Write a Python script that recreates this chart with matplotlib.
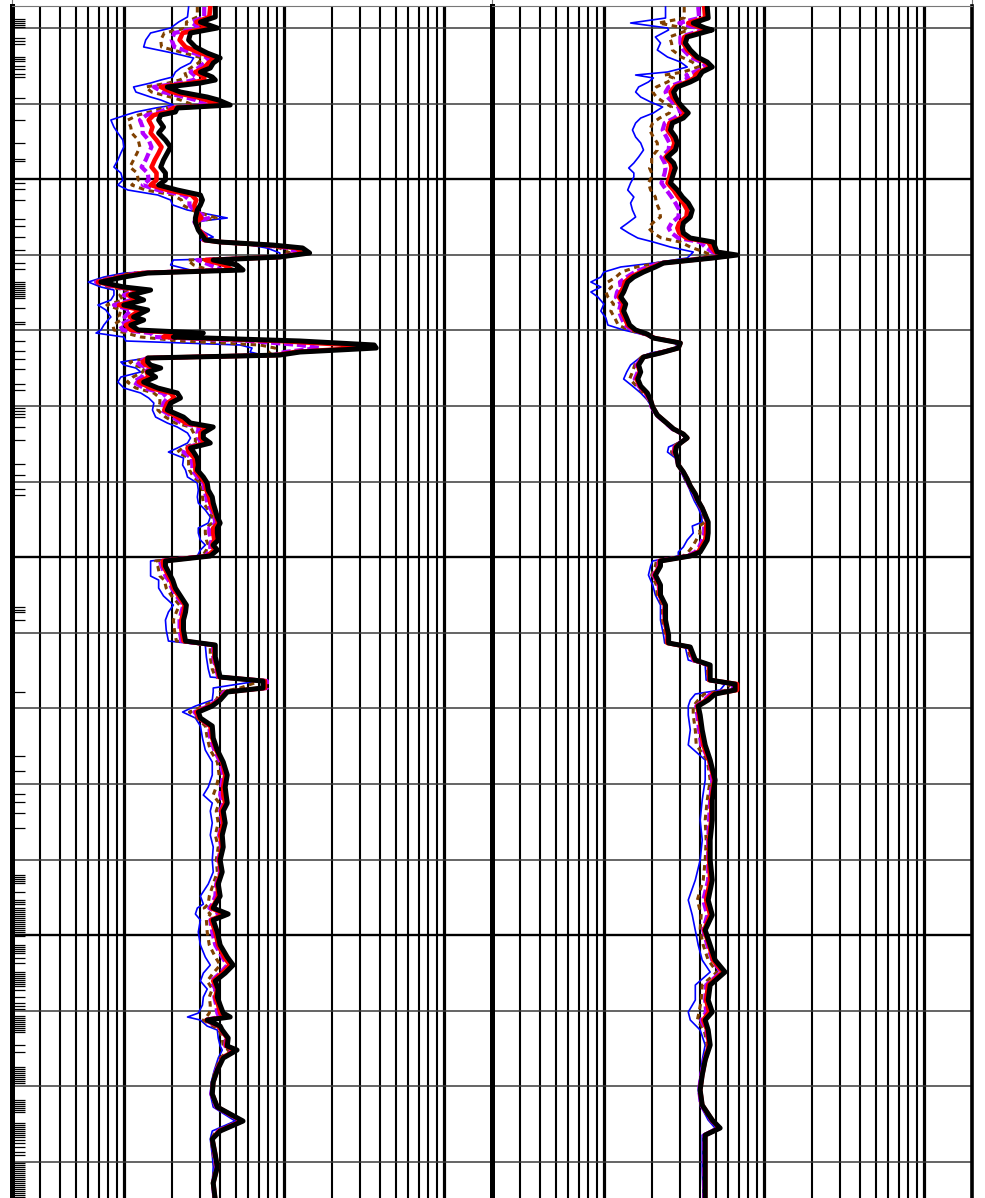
import matplotlib
matplotlib.use("Agg")
import matplotlib.pyplot as plt
from matplotlib.ticker import LogLocator, MultipleLocator, FixedLocator, NullFormatter

# --- track 1 : induction curves (ohm.m) against depth (ft) ---
t1_depth = [2027.22, 2028.54, 2029.21, 2030.00, 2030.66, 2031.59, 2032.51, 2033.31, 2033.97, 2034.63,
            2035.29, 2035.82, 2036.48, 2036.88, 2037.28, 2037.80, 2038.47, 2039.13, 2039.52, 2040.19,
            2040.58, 2041.11, 2041.51, 2042.17, 2043.10, 2043.89, 2044.82, 2045.74, 2046.54, 2047.46,
            2048.39, 2049.18, 2050.11, 2050.77, 2051.43, 2052.09, 2052.75, 2053.41, 2054.08, 2055.13,
            2055.66, 2056.72, 2057.65, 2058.04, 2058.31, 2058.71, 2059.10, 2059.76, 2060.29, 2060.69,
            2061.35, 2062.01, 2062.41, 2062.94, 2063.60, 2064.26, 2064.66, 2065.32, 2065.98, 2066.64,
            2067.30, 2068.23, 2068.63, 2069.29, 2069.95, 2070.35, 2070.87, 2071.40, 2071.93, 2072.33,
            2072.86, 2073.26, 2073.65, 2074.18, 2074.58, 2074.98, 2075.50, 2076.17, 2076.83, 2077.62,
            2078.28, 2078.94, 2079.61, 2080.53, 2081.46, 2082.25, 2082.78, 2083.57, 2084.23, 2084.90,
            2085.56, 2086.09, 2086.88, 2087.81, 2088.47, 2089.39, 2090.19, 2091.11, 2092.04, 2092.83,
            2093.76, 2094.68, 2095.48, 2096.14, 2096.80, 2097.73, 2098.39, 2099.05, 2099.84, 2100.50,
            2101.17, 2102.49, 2103.02, 2104.08, 2105.13, 2106.33, 2107.25, 2108.31, 2109.63, 2111.09,
            2111.62, 2113.20, 2114.79, 2115.85, 2116.38, 2117.30, 2117.83, 2118.89, 2119.69, 2120.48,
            2121.27, 2122.33, 2123.92, 2125.51, 2127.09, 2128.81, 2130.40, 2131.46, 2132.52, 2133.58,
            2135.16, 2136.75, 2138.34, 2140.06, 2141.64, 2143.23, 2144.82, 2145.88, 2146.41, 2147.20,
            2147.99, 2149.58, 2151.30, 2152.89, 2153.95, 2155.01, 2156.06, 2157.12, 2158.18, 2159.24,
            2160.30, 2160.82, 2161.22, 2162.02, 2162.54, 2163.60, 2164.66, 2165.19, 2166.25, 2167.84,
            2169.42, 2171.01, 2172.73, 2174.58, 2175.90, 2176.96, 2179.08, 2180.67, 2182.78, 2185.03]

t1_at90 = [37.3, 37.3, 30.1, 38.4, 26.1, 25.4, 28.0, 33.2, 40.0, 36.2,
           34.7, 30.1, 35.7, 37.3, 30.1, 18.7, 22.6, 33.2, 38.9, 46.2,
           21.6, 21.0, 17.0, 16.5, 17.7, 16.5, 18.2, 19.6, 18.7, 17.7,
           17.0, 18.2, 18.2, 16.5, 21.6, 30.1, 31.0, 30.1, 28.8, 28.0,
           28.0, 29.2, 31.4, 32.3, 40.0, 85.4, 131, 145, 94.4, 36.2,
           51.0, 55.6, 14.1, 10.0, 7.19, 10.0, 14.7, 11.05, 13.3, 10.0,
           14.1, 11.5, 13.3, 11.05, 12.3, 31.4, 20.4, 126, 367, 378,
           126, 94.4, 14.1, 14.1, 14.7, 17.0, 14.1, 15.8, 13.3, 16.3,
           21.6, 22.6, 19.6, 18.7, 23.6, 26.1, 36.2, 31.4, 31.4, 34.7,
           26.1, 27.3, 28.8, 29.2, 28.8, 31.4, 33.2, 33.7, 35.7, 36.2,
           37.3, 38.4, 40.0, 38.4, 38.4, 38.9, 36.2, 38.4, 34.7, 18.2,
           18.2, 19.6, 20.2, 21.0, 22.6, 24.6, 24.3, 23.6, 23.6, 24.3,
           37.3, 37.3, 38.9, 40.0, 74.1, 74.1, 44.3, 40.0, 35.7, 29.2,
           30.1, 35.7, 36.2, 38.4, 41.8, 44.3, 43.0, 43.6, 44.3, 41.8,
           43.0, 41.2, 41.8, 40.0, 41.2, 38.9, 40.0, 37.3, 36.2, 44.9,
           36.2, 38.4, 40.0, 44.3, 48.2, 43.0, 37.3, 38.9, 38.4, 40.0,
           41.8, 46.2, 33.2, 40.0, 41.2, 44.9, 44.3, 51.0, 41.8, 38.4,
           36.2, 35.7, 38.4, 55.6, 40.0, 35.7, 37.3, 38.4, 36.2, 37.3]

t1_at60 = [34.7, 34.2, 28.4, 33.7, 23.3, 22.3, 24.3, 30.1, 37.3, 33.7,
           31.8, 28.0, 31.8, 31.8, 26.1, 17.0, 19.9, 28.4, 32.8, 39.4,
           20.4, 18.7, 15.4, 14.3, 15.1, 14.7, 16.0, 17.2, 16.5, 15.6,
           14.9, 16.0, 16.0, 14.7, 18.7, 26.5, 28.4, 27.6, 28.0, 30.5,
           28.0, 29.6, 32.3, 31.8, 40.0, 79.5, 119, 133, 94.4, 32.3,
           42.4, 47.6, 13.1, 9.44, 6.89, 9.31, 13.3, 10.6, 12.1, 9.31,
           12.6, 10.9, 12.1, 10.3, 11.05, 22.6, 17.7, 94.4, 257, 297,
           117, 90.5, 14.1, 13.1, 13.7, 15.8, 13.9, 14.3, 12.4, 14.7,
           19.6, 20.7, 18.7, 17.9, 21.6, 24.3, 32.8, 30.1, 30.1, 32.3,
           25.0, 25.4, 27.6, 28.0, 28.0, 30.1, 32.3, 32.8, 34.2, 34.7,
           36.2, 37.8, 38.9, 36.2, 36.2, 36.8, 35.7, 36.8, 33.2, 17.5,
           17.7, 19.0, 19.6, 20.4, 22.0, 24.0, 23.6, 22.9, 22.9, 23.6,
           36.8, 36.8, 38.4, 39.4, 76.2, 76.2, 43.6, 39.4, 34.7, 28.4,
           29.6, 34.7, 35.7, 37.8, 41.2, 43.0, 41.8, 41.8, 43.0, 40.6,
           41.8, 40.0, 41.2, 39.4, 40.6, 38.4, 38.9, 36.8, 35.2, 42.4,
           35.2, 37.3, 38.9, 42.4, 46.2, 41.2, 36.2, 38.4, 37.3, 38.9,
           40.0, 43.0, 32.8, 38.9, 40.6, 44.3, 43.6, 49.6, 41.2, 38.4,
           36.2, 35.7, 38.4, 54.8, 39.4, 35.7, 37.3, 38.4, 36.2, 37.3]

t1_at30 = [31.8, 31.8, 26.5, 29.2, 20.7, 19.9, 20.7, 27.3, 34.2, 31.8,
           29.2, 26.1, 28.4, 27.3, 22.6, 15.4, 17.5, 24.0, 28.0, 33.2,
           19.0, 16.8, 13.9, 12.6, 13.1, 13.1, 14.3, 14.9, 14.3, 13.7,
           12.9, 14.1, 14.3, 13.1, 16.3, 23.6, 25.7, 25.7, 27.3, 33.7,
           27.6, 29.6, 33.2, 31.4, 40.0, 75.1, 107, 122, 94.4, 28.8,
           34.7, 41.2, 12.3, 8.92, 6.70, 8.80, 11.9, 10.0, 11.05, 8.67,
           11.05, 10.1, 10.9, 9.44, 9.86, 14.7, 15.4, 61.5, 126, 167,
           101, 86.6, 14.1, 12.1, 12.6, 14.7, 13.5, 12.9, 11.5, 13.3,
           17.5, 18.7, 17.7, 17.2, 20.2, 22.9, 29.6, 28.8, 29.2, 30.5,
           24.3, 23.6, 26.5, 26.8, 26.8, 28.8, 31.4, 31.8, 32.8, 33.2,
           35.2, 36.8, 37.3, 34.2, 34.2, 35.2, 34.7, 34.7, 32.3, 16.8,
           17.2, 18.2, 19.0, 19.9, 21.3, 23.6, 22.9, 22.3, 22.3, 22.9,
           36.2, 36.2, 37.8, 38.9, 78.4, 78.4, 42.4, 38.9, 33.7, 27.6,
           29.6, 34.2, 34.7, 36.8, 40.0, 41.8, 40.6, 40.0, 41.8, 40.0,
           41.2, 39.4, 40.6, 38.9, 40.0, 37.8, 37.3, 35.7, 34.2, 40.0,
           34.7, 35.7, 37.3, 41.2, 44.3, 40.0, 35.2, 37.3, 36.8, 37.8,
           38.4, 39.4, 32.3, 38.4, 40.6, 43.6, 43.0, 48.2, 41.2, 37.8,
           36.2, 35.2, 37.8, 54.1, 38.9, 35.7, 36.8, 37.8, 36.2, 36.8]

t1_at20 = [28.8, 28.8, 24.6, 24.6, 17.9, 17.0, 17.2, 24.0, 31.0, 29.2,
           26.1, 24.0, 24.6, 22.3, 19.0, 13.7, 14.9, 19.6, 22.6, 27.3,
           17.7, 14.5, 12.3, 10.6, 11.05, 11.2, 12.3, 12.6, 12.1, 11.5,
           10.9, 12.1, 12.3, 11.2, 13.7, 20.2, 22.9, 23.3, 26.5, 37.8,
           27.6, 29.6, 34.2, 31.0, 40.0, 69.0, 94.4, 109, 94.4, 25.0,
           27.3, 34.2, 11.2, 8.30, 6.42, 8.06, 10.5, 9.44, 9.86, 7.83,
           9.58, 9.31, 9.58, 8.55, 8.67, 10.3, 12.75, 22.6, 71.0, 87.9,
           81.9, 81.9, 14.1, 10.9, 11.4, 13.5, 13.1, 11.4, 10.5, 11.9,
           15.4, 16.8, 16.8, 16.3, 18.2, 21.0, 26.1, 27.3, 28.0, 28.0,
           23.3, 21.6, 25.4, 25.4, 25.7, 27.3, 30.1, 31.0, 31.0, 31.4,
           33.7, 35.7, 35.7, 32.3, 32.3, 32.8, 33.7, 32.8, 31.0, 15.8,
           16.3, 16.8, 17.9, 18.4, 19.9, 22.3, 21.3, 20.4, 20.7, 21.3,
           34.7, 34.7, 35.7, 37.3, 71.0, 53.3, 40.0, 37.8, 31.4, 25.7,
           28.8, 32.3, 33.2, 34.7, 38.4, 39.4, 37.8, 36.2, 39.4, 37.8,
           38.9, 37.3, 38.9, 37.8, 38.4, 36.2, 34.2, 33.7, 31.8, 34.7,
           32.8, 33.2, 34.2, 37.3, 40.0, 36.2, 33.2, 35.7, 34.2, 34.7,
           34.2, 32.8, 31.4, 36.2, 39.4, 41.2, 41.8, 45.5, 40.0, 37.3,
           35.7, 35.2, 37.3, 52.5, 37.8, 35.2, 36.2, 37.3, 35.7, 36.8]

t1_at10 = [25.4, 25.0, 22.0, 19.6, 14.7, 13.7, 13.3, 20.2, 27.3, 26.1,
           22.6, 21.0, 20.2, 17.0, 14.7, 11.5, 11.9, 14.7, 17.0, 20.4,
           15.8, 11.9, 10.3, 8.3, 8.67, 9.18, 9.86, 10.0, 9.58, 9.18,
           8.67, 9.58, 9.86, 9.18, 10.6, 16.3, 19.6, 20.2, 25.0, 44.3,
           27.3, 30.1, 36.2, 30.1, 40.0, 61.5, 78.4, 94.4, 94.4, 20.4,
           19.6, 26.1, 10.0, 7.50, 6.0, 7.19, 8.67, 8.67, 8.30, 6.89,
           7.72, 8.30, 7.94, 7.50, 7.19, 6.70, 10.0, 10.3, 53.3, 63.3,
           61.5, 74.1, 14.1, 9.58, 10.0, 11.9, 12.75, 9.58, 9.18, 10.0,
           12.75, 14.3, 15.4, 15.1, 15.8, 18.7, 21.6, 25.0, 26.1, 25.0,
           21.6, 19.0, 23.6, 23.3, 24.3, 25.0, 28.8, 29.2, 28.8, 29.2,
           32.3, 34.7, 33.7, 29.2, 29.2, 30.1, 32.3, 30.1, 28.8, 14.7,
           14.7, 14.7, 16.5, 16.5, 17.7, 20.4, 19.0, 18.2, 18.4, 19.0,
           32.3, 32.8, 33.7, 34.7, 69.0, 36.2, 36.2, 35.7, 28.0, 23.3,
           28.0, 30.1, 31.0, 32.3, 35.7, 35.7, 33.7, 31.4, 35.7, 34.7,
           35.7, 34.7, 36.2, 35.7, 36.2, 33.7, 30.1, 31.4, 28.8, 28.0,
           30.1, 29.2, 30.1, 32.3, 34.7, 31.4, 30.1, 33.2, 31.4, 31.0,
           29.2, 25.0, 30.1, 33.2, 38.4, 38.9, 40.0, 41.2, 38.9, 36.8,
           35.2, 34.7, 36.2, 49.6, 35.7, 34.7, 35.7, 36.2, 35.7, 36.2]

# --- track 2 ---
t2_depth = [2027.22, 2028.68, 2029.34, 2030.00, 2030.26, 2031.19, 2031.98, 2032.91, 2033.84, 2034.50,
            2035.16, 2035.82, 2036.22, 2036.61, 2037.14, 2037.80, 2038.47, 2039.13, 2039.79, 2040.45,
            2041.24, 2041.91, 2042.57, 2043.49, 2044.42, 2045.21, 2046.14, 2047.06, 2047.86, 2048.52,
            2049.18, 2049.71, 2050.50, 2051.43, 2052.36, 2053.15, 2054.08, 2055.00, 2055.79, 2056.46,
            2057.12, 2057.78, 2058.31, 2058.97, 2059.63, 2060.03, 2060.42, 2061.09, 2061.61, 2062.28,
            2062.94, 2063.60, 2064.26, 2064.92, 2065.58, 2066.51, 2067.44, 2068.36, 2069.29, 2069.95,
            2070.48, 2071.01, 2071.67, 2072.33, 2072.99, 2073.52, 2074.58, 2075.50, 2076.43, 2077.36,
            2078.28, 2079.21, 2080.13, 2081.19, 2082.12, 2083.04, 2083.71, 2084.23, 2084.90, 2085.43,
            2086.09, 2086.88, 2087.81, 2088.73, 2089.66, 2090.58, 2091.64, 2092.57, 2093.49, 2094.42,
            2095.35, 2095.88, 2096.80, 2097.73, 2098.65, 2099.31, 2099.84, 2100.50, 2101.17, 2102.36,
            2103.68, 2105.00, 2106.33, 2108.31, 2110.30, 2111.35, 2111.88, 2113.60, 2114.26, 2116.25,
            2116.78, 2117.57, 2118.10, 2118.89, 2119.69, 2120.88, 2122.86, 2124.84, 2126.83, 2129.47,
            2132.12, 2134.77, 2137.41, 2140.06, 2142.70, 2145.35, 2147.33, 2149.32, 2151.30, 2153.29,
            2154.87, 2156.59, 2158.58, 2160.16, 2161.22, 2162.54, 2164.53, 2166.51, 2168.50, 2170.48,
            2172.47, 2174.45, 2175.51, 2176.44, 2178.42, 2181.07, 2185.03]

t2_at90 = [44.3, 44.9, 36.2, 43.0, 47.6, 33.2, 32.3, 34.7, 38.4, 44.3,
           47.6, 41.2, 40.0, 38.9, 34.7, 28.8, 27.3, 28.0, 29.2, 31.0,
           33.7, 31.4, 26.8, 26.1, 28.0, 28.8, 28.0, 25.0, 27.3, 28.0,
           27.3, 26.8, 26.1, 28.8, 31.0, 33.7, 35.7, 34.7, 31.4, 31.0,
           31.4, 34.7, 48.2, 49.6, 51.0, 68.0, 48.2, 23.6, 21.0, 17.7,
           15.4, 14.1, 13.7, 13.3, 12.75, 13.7, 13.3, 13.9, 14.5, 15.8,
           18.7, 20.4, 30.1, 29.2, 22.6, 17.7, 16.5, 17.0, 16.3, 17.0,
           18.7, 19.6, 20.2, 21.6, 24.3, 27.3, 31.4, 33.2, 30.1, 28.4,
           28.0, 28.8, 29.2, 31.4, 33.2, 34.7, 37.3, 38.9, 41.2, 43.0,
           44.9, 44.9, 44.9, 44.3, 41.8, 40.0, 34.7, 22.6, 22.6, 21.0,
           22.6, 22.6, 24.3, 24.3, 25.4, 25.4, 34.7, 37.3, 46.2, 46.2,
           66.1, 66.1, 49.6, 44.9, 38.9, 40.0, 41.2, 43.0, 46.2, 49.6,
           47.6, 47.6, 46.2, 46.2, 47.6, 44.9, 47.6, 43.0, 46.2, 49.6,
           57.2, 46.2, 44.9, 47.6, 43.0, 44.9, 46.2, 43.0, 41.2, 40.0,
           41.2, 47.6, 53.3, 43.0, 43.0, 43.0, 43.0]

t2_at60 = [42.4, 43.0, 33.7, 41.2, 44.9, 31.8, 31.4, 33.2, 37.3, 43.0,
           46.2, 39.4, 37.3, 36.8, 33.2, 27.6, 26.1, 26.8, 28.4, 30.1,
           32.3, 30.1, 25.7, 25.0, 26.8, 27.6, 26.8, 24.3, 26.1, 26.5,
           26.1, 25.7, 25.0, 27.3, 29.2, 31.4, 33.2, 32.8, 29.6, 28.8,
           29.6, 32.8, 44.9, 46.9, 49.6, 64.2, 46.9, 23.3, 20.2, 17.0,
           14.7, 13.5, 13.3, 12.75, 12.4, 13.3, 12.9, 13.5, 14.1, 15.6,
           18.4, 20.7, 30.1, 29.2, 22.3, 17.7, 16.3, 16.8, 16.0, 16.8,
           18.4, 19.6, 20.2, 21.6, 24.3, 27.3, 31.4, 33.2, 30.1, 28.0,
           27.6, 28.8, 29.2, 31.4, 33.2, 34.7, 37.3, 38.9, 41.2, 43.0,
           44.3, 43.6, 43.6, 43.0, 40.6, 38.9, 34.2, 22.3, 22.3, 20.7,
           22.3, 22.3, 24.0, 24.0, 25.0, 25.0, 34.2, 36.8, 45.5, 45.5,
           68.0, 68.0, 48.2, 43.6, 38.4, 39.4, 40.6, 41.8, 45.5, 48.9,
           46.9, 46.9, 45.5, 45.5, 46.2, 43.6, 46.2, 42.4, 45.5, 48.2,
           55.6, 44.9, 43.6, 45.5, 41.8, 44.3, 45.5, 43.0, 41.2, 40.0,
           41.2, 47.6, 52.5, 43.0, 43.0, 43.0, 43.0]

t2_at30 = [38.9, 39.4, 29.6, 38.4, 41.2, 30.1, 30.1, 31.4, 34.7, 40.6,
           44.3, 36.8, 32.8, 33.7, 30.5, 25.4, 24.3, 25.0, 26.8, 29.2,
           30.1, 27.6, 24.0, 23.3, 24.6, 25.7, 25.4, 22.9, 24.0, 24.3,
           24.0, 23.6, 22.9, 24.6, 26.5, 28.0, 29.6, 29.2, 26.5, 25.4,
           26.5, 29.2, 40.0, 43.0, 47.6, 58.9, 44.3, 22.9, 18.7, 15.6,
           13.9, 12.6, 12.75, 12.1, 11.9, 12.75, 12.4, 12.9, 13.5, 15.1,
           18.2, 20.7, 29.6, 29.2, 22.0, 17.5, 16.0, 16.3, 15.6, 16.5,
           18.2, 19.3, 19.9, 21.3, 24.0, 26.8, 31.0, 33.2, 29.6, 27.6,
           27.3, 28.4, 29.2, 31.0, 32.8, 34.2, 36.8, 38.4, 40.6, 42.4,
           44.3, 42.4, 42.4, 41.2, 39.4, 37.3, 33.2, 22.0, 22.0, 20.4,
           22.0, 22.3, 24.0, 24.0, 25.0, 25.0, 34.2, 36.2, 45.5, 45.5,
           64.2, 64.2, 46.2, 42.4, 37.8, 38.4, 39.4, 40.6, 45.5, 47.6,
           46.2, 45.5, 44.9, 44.9, 44.9, 41.8, 44.3, 41.8, 44.3, 47.6,
           54.1, 43.6, 43.0, 43.6, 40.6, 43.6, 45.5, 42.4, 40.6, 39.4,
           40.6, 46.9, 52.5, 42.4, 42.4, 42.4, 42.4]

t2_at20 = [31.8, 31.8, 22.0, 31.8, 33.7, 25.7, 26.5, 26.8, 30.5, 35.7,
           38.9, 31.4, 24.0, 27.3, 25.0, 21.3, 20.2, 21.3, 23.6, 26.5,
           25.7, 22.3, 20.2, 19.3, 20.4, 21.6, 21.6, 19.9, 19.9, 19.3,
           19.9, 19.9, 19.0, 19.6, 21.0, 21.3, 22.3, 22.6, 20.2, 19.0,
           20.4, 22.9, 30.1, 34.7, 42.4, 46.9, 39.4, 22.0, 16.0, 12.9,
           11.9, 10.6, 11.2, 10.3, 10.6, 11.5, 11.05, 11.7, 12.3, 14.3,
           17.7, 20.7, 28.8, 29.2, 21.0, 17.2, 15.6, 15.1, 14.5, 16.0,
           17.7, 19.0, 19.9, 21.3, 24.0, 26.8, 30.5, 33.2, 29.2, 26.8,
           26.5, 28.4, 29.2, 31.0, 32.3, 34.2, 36.2, 37.8, 40.0, 41.8,
           43.0, 39.4, 40.0, 37.8, 35.7, 33.7, 31.4, 21.3, 21.0, 19.9,
           21.3, 21.6, 23.3, 23.3, 24.3, 24.6, 33.2, 35.2, 44.3, 44.9,
           61.5, 58.9, 42.4, 38.9, 36.2, 36.2, 37.3, 37.8, 44.3, 46.2,
           44.3, 43.0, 43.6, 43.0, 41.8, 38.4, 40.6, 40.0, 41.8, 44.9,
           51.0, 41.2, 40.6, 39.4, 38.4, 42.4, 44.3, 42.4, 40.6, 39.4,
           40.6, 46.2, 51.7, 42.4, 42.4, 42.4, 42.4]

t2_at10 = [24.3, 24.3, 14.7, 25.0, 25.4, 21.0, 22.6, 21.6, 25.0, 30.1,
           33.2, 25.0, 15.8, 20.4, 19.0, 16.5, 15.8, 17.0, 19.6, 23.3,
           20.4, 17.0, 15.8, 15.1, 15.8, 17.0, 17.7, 16.5, 15.4, 14.3,
           15.4, 15.4, 14.7, 14.1, 15.4, 14.7, 15.1, 15.8, 14.1, 12.75,
           14.3, 16.3, 20.4, 26.1, 36.2, 34.7, 33.2, 20.4, 12.75, 10.0,
           9.58, 8.30, 9.58, 8.30, 9.18, 10.0, 9.58, 10.3, 10.6, 13.3,
           17.0, 21.0, 28.0, 28.8, 19.6, 17.0, 14.7, 13.9, 13.3, 15.1,
           17.0, 18.7, 19.9, 21.0, 23.6, 26.8, 30.1, 33.2, 28.8, 25.4,
           25.0, 28.0, 29.2, 30.5, 31.8, 33.7, 35.2, 36.8, 38.9, 40.6,
           41.2, 35.7, 36.2, 33.2, 31.4, 29.2, 29.2, 20.2, 19.6, 19.0,
           20.2, 21.0, 22.6, 22.6, 23.6, 24.0, 32.3, 33.7, 43.0, 43.6,
           57.2, 53.3, 37.3, 34.7, 33.7, 33.7, 34.7, 33.7, 43.0, 43.0,
           41.2, 40.0, 41.2, 40.0, 37.3, 33.7, 35.7, 37.3, 38.9, 41.2,
           46.2, 37.3, 37.3, 33.7, 34.7, 40.0, 43.0, 41.2, 40.0, 38.9,
           40.0, 44.9, 49.6, 41.2, 41.2, 41.2, 41.8]

# sample depths marked on the depth track
sample_depths = [2028.8, 2029.1, 2029.3, 2029.6, 2029.9, 2031.3, 2031.7, 2032.1, 2033.8, 2034.1,
                 2034.4, 2035.0, 2035.4, 2036.1, 2036.5, 2039.3, 2042.2, 2045.2, 2047.3, 2047.6,
                 2050.5, 2051.3, 2052.8, 2055.3, 2056.2, 2057.6, 2059.4, 2061.1, 2061.9, 2063.6,
                 2063.9, 2064.1, 2064.4, 2064.7, 2064.9, 2065.2, 2065.4, 2065.7, 2067.0, 2068.9,
                 2069.2, 2071.4, 2072.7, 2073.8, 2075.1, 2077.1, 2077.9, 2080.3, 2080.7, 2081.1,
                 2081.5, 2082.8, 2084.5, 2087.7, 2089.1, 2091.0, 2091.8, 2106.6, 2107.0, 2107.3,
                 2108.3, 2117.8, 2126.3, 2128.3, 2131.3, 2132.4, 2133.8, 2135.8, 2142.1, 2142.3,
                 2142.6, 2142.8, 2143.1, 2144.3, 2145.3, 2145.6, 2145.9, 2146.4, 2146.7, 2146.9,
                 2147.2, 2147.5, 2147.7, 2148.0, 2148.3, 2148.5, 2148.8, 2149.1, 2149.3, 2149.6,
                 2149.8, 2150.1, 2151.3, 2151.6, 2151.8, 2152.1, 2152.4, 2153.0, 2153.7, 2154.9,
                 2155.1, 2155.4, 2155.7, 2155.9, 2156.2, 2156.5, 2156.7, 2157.3, 2158.2, 2159.0,
                 2159.4, 2159.8, 2160.7, 2161.0, 2161.2, 2161.5, 2161.8, 2162.0, 2162.3, 2162.5,
                 2162.8, 2164.5, 2165.5, 2167.4, 2167.7, 2168.0, 2168.2, 2168.5, 2168.8, 2169.0,
                 2169.3, 2169.6, 2171.8, 2172.1, 2172.3, 2172.6, 2172.9, 2173.1, 2173.4, 2174.8,
                 2175.1, 2175.4, 2175.6, 2175.9, 2176.2, 2176.4, 2176.7, 2177.1, 2177.5, 2178.0,
                 2178.7, 2179.1, 2180.1, 2180.4, 2180.7, 2180.9, 2181.2, 2181.5, 2181.7, 2182.0,
                 2182.3, 2182.5, 2182.8, 2183.1, 2183.3, 2183.6, 2183.9, 2184.1, 2184.4, 2184.6]

DEPTH_TOP = 2027.09
DEPTH_BOTTOM = 2184.76


def setup_track(ax):
    """Log-scale resistivity track with the usual log-paper grid."""
    ax.set_xscale('log')
    ax.set_xlim(2, 2000)
    ax.set_ylim(DEPTH_BOTTOM, DEPTH_TOP)

    ax.xaxis.set_major_locator(LogLocator(base=10, numticks=10))
    ax.xaxis.set_minor_locator(LogLocator(base=10, subs=range(2, 10), numticks=30))
    ax.xaxis.set_major_formatter(NullFormatter())
    ax.xaxis.set_minor_formatter(NullFormatter())
    ax.yaxis.set_major_locator(MultipleLocator(10))
    ax.yaxis.set_major_formatter(NullFormatter())
    ax.tick_params(which='both', length=0, labelleft=False, labelbottom=False)

    ax.set_axisbelow(True)
    ax.grid(True, which='major', axis='x', color='black', lw=2.3)
    ax.grid(True, which='minor', axis='x', color='black', lw=1.5)
    ax.grid(True, which='major', axis='y', color='#3a3a3a', lw=1.1)
    for d in range(2050, 2200, 50):
        ax.axhline(d, color='black', lw=1.7, zorder=1)

    ax.spines['bottom'].set_visible(False)
    ax.spines['top'].set_linewidth(0.8)
    ax.spines['top'].set_color('#777777')


def draw_curves(ax, depth, at10, at20, at30, at60, at90):
    ax.plot(at10, depth, color='#0000ff', lw=1.2, zorder=3)
    ax.plot(at20, depth, color='#804000', lw=2.2, dashes=(1.8, 1.5), zorder=4)
    ax.plot(at30, depth, color='#b400ff', lw=3.0, dashes=(2.2, 0.9), zorder=5)
    ax.plot(at60, depth, color='#ff0000', lw=3.3, zorder=6)
    ax.plot(at90, depth, color='black', lw=3.6, zorder=7)


fig = plt.figure(figsize=(9.85, 11.98), dpi=100)
ax1 = fig.add_axes([12 / 985, 0, 480 / 985, 1192 / 1198])
ax2 = fig.add_axes([492 / 985, 0, 480 / 985, 1192 / 1198])

for ax in (ax1, ax2):
    setup_track(ax)
    # header box borders above the tracks
    ax.plot([0, 0], [1, 1.01], transform=ax.transAxes, color='#777777', lw=0.8, clip_on=False)
ax2.plot([1, 1], [1, 1.01], transform=ax2.transAxes, color='#777777', lw=0.8, clip_on=False)

draw_curves(ax1, t1_depth, t1_at10, t1_at20, t1_at30, t1_at60, t1_at90)
draw_curves(ax2, t2_depth, t2_at10, t2_at20, t2_at30, t2_at60, t2_at90)

# thick borders between tracks
ax1.spines['left'].set_linewidth(3.6)
ax1.spines['right'].set_linewidth(3.6)
ax2.spines['left'].set_linewidth(3.6)
ax2.spines['right'].set_linewidth(2.6)

# sample marks along the depth edge
ax1.yaxis.set_minor_locator(FixedLocator(sample_depths))
ax1.tick_params(axis='y', which='minor', direction='in', length=9, width=0.9,
                color='black', left=True, right=False)

fig.savefig('out.png', dpi=100)
